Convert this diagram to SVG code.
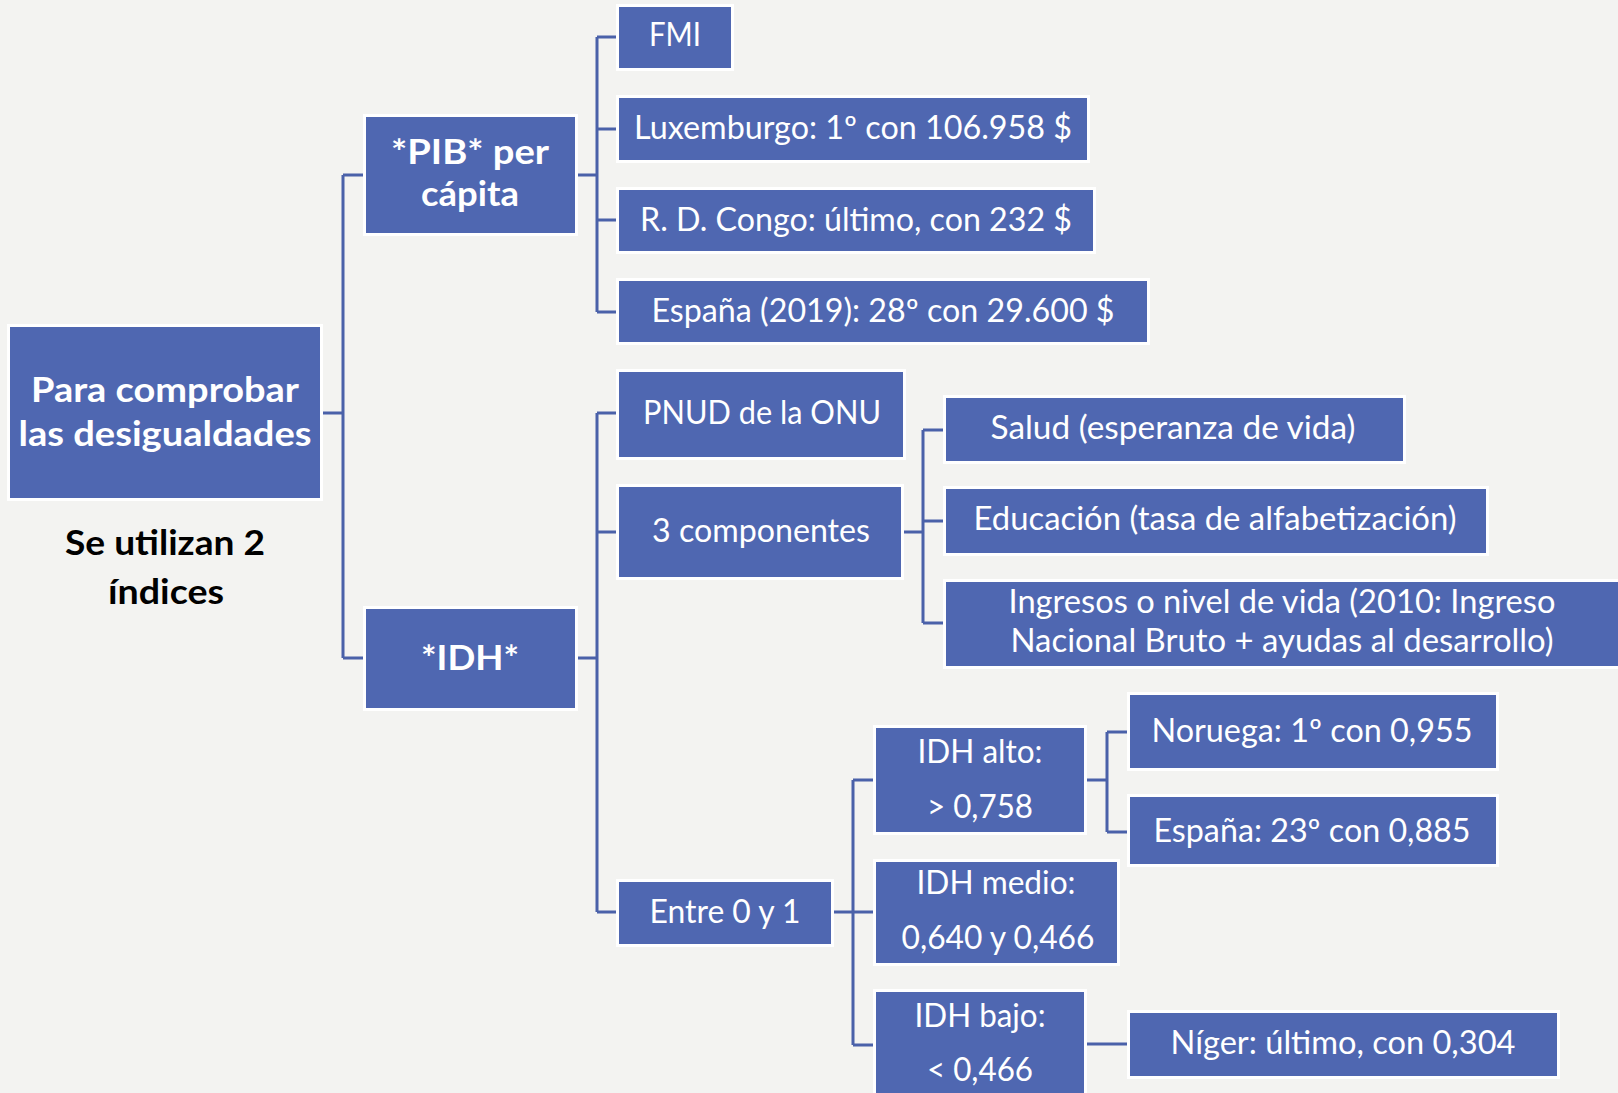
<svg xmlns="http://www.w3.org/2000/svg" width="1618" height="1093" viewBox="0 0 1618 1093">
<style>
.bg{fill:#F3F3F1}
.box{fill:#4F67B1;stroke:#FFFFFF;stroke-width:3}
.t{font-family:Lato,"Noto Sans","Liberation Sans",sans-serif;font-size:32px;fill:#FFFFFF;text-anchor:middle}
.b{font-family:Lato,"Noto Sans","Liberation Sans",sans-serif;font-size:35px;font-weight:bold;fill:#FFFFFF;text-anchor:middle}
.k{font-family:Lato,"Noto Sans","Liberation Sans",sans-serif;font-size:35px;font-weight:bold;fill:#000000;text-anchor:middle}
.con{stroke:#4A61A9;stroke-width:3;fill:none}
</style>
<rect class="bg" x="0" y="0" width="1618" height="1093"/>
<g id="connectors">
<path class="con" d="M320 413 H343 M343 175 V658 M343 175 H366 M343 658 H366"/>
<path class="con" d="M575 175 H597 M597 37 V312 M597 37 H619 M597 129 H619 M597 220 H619 M597 312 H619"/>
<path class="con" d="M575 658 H597 M597 413 V912 M597 413 H619 M597 532 H619 M597 912 H619"/>
<path class="con" d="M901 532 H923 M923 430 V623 M923 430 H946 M923 521 H946 M923 623 H946"/>
<path class="con" d="M831 912 H853 M853 780 V1045 M853 780 H876 M853 912 H876 M853 1045 H876"/>
<path class="con" d="M1084 780 H1107 M1107 732 V832 M1107 732 H1130 M1107 832 H1130"/>
<path class="con" d="M1084 1044 H1130"/>
</g>
<g id="root">
<rect class="box" x="8.5" y="325.5" width="313" height="174"/>
<text class="b" x="165" y="402" textLength="268" lengthAdjust="spacingAndGlyphs">Para comprobar</text>
<text class="b" x="165" y="446" textLength="293" lengthAdjust="spacingAndGlyphs">las desigualdades</text>
</g>
<g id="caption">
<text class="k" x="165" y="555" textLength="200" lengthAdjust="spacingAndGlyphs">Se utilizan 2</text>
<text class="k" x="166" y="604" textLength="116" lengthAdjust="spacingAndGlyphs">índices</text>
</g>
<g id="pib">
<rect class="box" x="364.5" y="115.5" width="212" height="119"/>
<text class="b" x="470" y="164" textLength="158" lengthAdjust="spacingAndGlyphs">*PIB* per</text>
<text class="b" x="470" y="206" textLength="98" lengthAdjust="spacingAndGlyphs">cápita</text>
</g>
<g id="idh">
<rect class="box" x="364.5" y="607.5" width="212" height="102"/>
<text class="b" x="470" y="670" textLength="98" lengthAdjust="spacingAndGlyphs">*IDH*</text>
</g>
<g id="fmi">
<rect class="box" x="617.5" y="5.5" width="115" height="64"/>
<text class="t" x="675" y="46" textLength="52" lengthAdjust="spacingAndGlyphs">FMI</text>
</g>
<g id="luxemburgo">
<rect class="box" x="617.5" y="96.5" width="471" height="65"/>
<text class="t" x="853" y="139" textLength="438" lengthAdjust="spacingAndGlyphs">Luxemburgo: 1º con 106.958 $</text>
</g>
<g id="congo">
<rect class="box" x="617.5" y="188.5" width="477" height="64"/>
<text class="t" x="856" y="231" textLength="432" lengthAdjust="spacingAndGlyphs">R. D. Congo: último, con 232 $</text>
</g>
<g id="espana-pib">
<rect class="box" x="617.5" y="279.5" width="531" height="64"/>
<text class="t" x="883" y="322" textLength="463" lengthAdjust="spacingAndGlyphs">España (2019): 28º con 29.600 $</text>
</g>
<g id="pnud">
<rect class="box" x="617.5" y="370.5" width="287" height="88"/>
<text class="t" x="762" y="424" textLength="238" lengthAdjust="spacingAndGlyphs">PNUD de la ONU</text>
</g>
<g id="componentes">
<rect class="box" x="617.5" y="485.5" width="285" height="93"/>
<text class="t" x="761" y="542" textLength="218" lengthAdjust="spacingAndGlyphs">3 componentes</text>
</g>
<g id="salud">
<rect class="box" x="944.5" y="396.5" width="460" height="66"/>
<text class="t" x="1173" y="439" textLength="365" lengthAdjust="spacingAndGlyphs">Salud (esperanza de vida)</text>
</g>
<g id="educacion">
<rect class="box" x="944.5" y="487.5" width="543" height="67"/>
<text class="t" x="1215" y="530" textLength="483" lengthAdjust="spacingAndGlyphs">Educación (tasa de alfabetización)</text>
</g>
<g id="ingresos">
<rect class="box" x="944.5" y="580.5" width="675" height="87"/>
<text class="t" x="1282" y="613" textLength="547" lengthAdjust="spacingAndGlyphs">Ingresos o nivel de vida (2010: Ingreso</text>
<text class="t" x="1282" y="652" textLength="543" lengthAdjust="spacingAndGlyphs">Nacional Bruto + ayudas al desarrollo)</text>
</g>
<g id="entre">
<rect class="box" x="617.5" y="880.5" width="215" height="65"/>
<text class="t" x="725" y="923" textLength="151" lengthAdjust="spacingAndGlyphs">Entre 0 y 1</text>
</g>
<g id="idh-alto">
<rect class="box" x="874.5" y="726.5" width="211" height="107"/>
<text class="t" x="980" y="763" textLength="125" lengthAdjust="spacingAndGlyphs">IDH alto:</text>
<text class="t" x="980" y="818" textLength="106" lengthAdjust="spacingAndGlyphs">&gt; 0,758</text>
</g>
<g id="idh-medio">
<rect class="box" x="874.5" y="860.5" width="244" height="104"/>
<text class="t" x="996" y="894" textLength="159" lengthAdjust="spacingAndGlyphs">IDH medio:</text>
<text class="t" x="998" y="949" textLength="193" lengthAdjust="spacingAndGlyphs">0,640 y 0,466</text>
</g>
<g id="idh-bajo">
<rect class="box" x="874.5" y="990.5" width="211" height="110"/>
<text class="t" x="980" y="1027" textLength="131" lengthAdjust="spacingAndGlyphs">IDH bajo:</text>
<text class="t" x="980" y="1081" textLength="106" lengthAdjust="spacingAndGlyphs">&lt; 0,466</text>
</g>
<g id="noruega">
<rect class="box" x="1128.5" y="693.5" width="369" height="76"/>
<text class="t" x="1312" y="742" textLength="321" lengthAdjust="spacingAndGlyphs">Noruega: 1º con 0,955</text>
</g>
<g id="espana-idh">
<rect class="box" x="1128.5" y="795.5" width="369" height="70"/>
<text class="t" x="1312" y="842" textLength="317" lengthAdjust="spacingAndGlyphs">España: 23º con 0,885</text>
</g>
<g id="niger">
<rect class="box" x="1128.5" y="1011.5" width="430" height="66"/>
<text class="t" x="1343" y="1054" textLength="345" lengthAdjust="spacingAndGlyphs">Níger: último, con 0,304</text>
</g>
</svg>
